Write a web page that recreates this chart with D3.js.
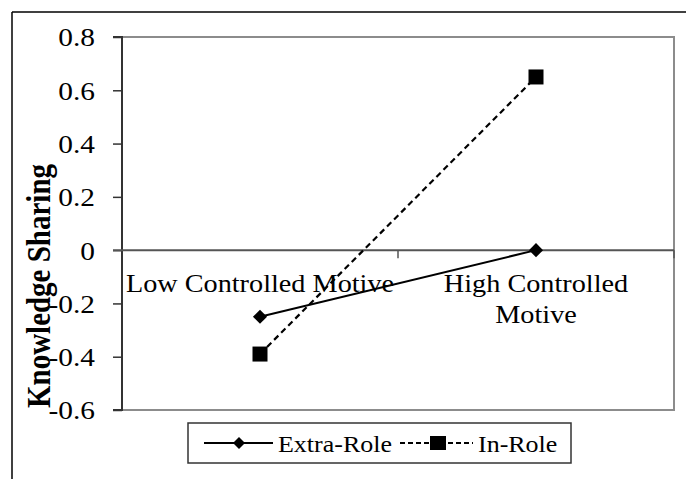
<!DOCTYPE html>
<html><head><meta charset="utf-8">
<script src="https://cdn.jsdelivr.net/npm/d3@7"></script>
<style>body{margin:0;background:#fff}svg{display:block}text{font-family:"Liberation Serif","Times New Roman",serif;fill:#000}</style>
</head><body><svg id="c" width="686" height="479"></svg>
<script>
const categories = ["Low Controlled Motive", "High Controlled Motive"];
const categoryLines = [["Low Controlled Motive"], ["High Controlled", "Motive"]];
const seriesNames = ["Extra-Role", "In-Role"];
const extraRole = [-0.25, 0.0];
const inRole = [-0.39, 0.65];
const yTicks = [-0.6, -0.4, -0.2, 0, 0.2, 0.4, 0.6, 0.8];
const yTitle = "Knowledge Sharing";

const svg = d3.select("#c");
const L = 122, R = 674, T = 37, B = 410;
const SX = 1.13;
const x = d3.scaleBand().domain(categories).range([L, R]);
const y = d3.scaleLinear().domain([-0.6, 0.8]).range([B, T]);

// outer frame
svg.append("line").attr("x1",12).attr("x2",686).attr("y1",12).attr("y2",12).attr("stroke","#000").attr("stroke-width",1.5);
svg.append("line").attr("x1",12).attr("x2",12).attr("y1",12).attr("y2",479).attr("stroke","#000").attr("stroke-width",1.5);

// plot area border
svg.append("rect").attr("x",L).attr("y",T).attr("width",R-L).attr("height",B-T)
  .attr("fill","none").attr("stroke","#8c8c8c").attr("stroke-width",2);

// y axis
const yAxis = d3.axisLeft(y).tickValues(yTicks).tickSize(9).tickPadding(0)
  .tickFormat(d => String(+d.toFixed(1)));
const gy = svg.append("g").attr("transform",`translate(${L},0)`).call(yAxis);
gy.select(".domain").attr("stroke","#333").attr("stroke-width",2).attr("d",`M-9,${T}H0V${B}H-9`);
gy.selectAll(".tick line").attr("stroke","#333").attr("stroke-width",1.5);
gy.selectAll(".tick text").attr("font-size",26).attr("font-family","Liberation Serif")
  .attr("x",null).attr("dy",null).attr("dominant-baseline","central")
  .attr("transform",`translate(-27,0) scale(${SX},1)`).attr("text-anchor","end");

// category axis at y = 0
const gx = svg.append("g").attr("transform",`translate(0,${y(0)})`);
gx.append("line").attr("x1",L-9).attr("x2",R).attr("y1",0).attr("y2",0).attr("stroke","#555").attr("stroke-width",2);
gx.selectAll("line.tk").data([L + x.bandwidth(), R]).enter().append("line").attr("class","tk")
  .attr("x1",d=>d).attr("x2",d=>d).attr("y1",0).attr("y2",8).attr("stroke","#555").attr("stroke-width",1.5);
categories.forEach((c,i) => {
  const cx = x(c) + x.bandwidth()/2;
  categoryLines[i].forEach((ln,j) => {
    svg.append("text").attr("font-size",25).attr("text-anchor","middle")
      .attr("transform",`translate(${cx},${y(0)+42+j*31}) scale(${SX},1)`).text(ln);
  });
});

// y title
svg.append("text").attr("font-size",29).attr("font-weight","bold").attr("text-anchor","middle")
  .attr("font-family","Liberation Serif")
  .attr("transform",`translate(50,286) rotate(-90) scale(1,${SX})`).text(yTitle);

// lines
const line = d3.line().x((d,i)=>x(categories[i])+x.bandwidth()/2).y(d=>y(d));
svg.append("path").attr("d",line(extraRole)).attr("fill","none").attr("stroke","#000").attr("stroke-width",2);
svg.append("path").attr("d",line(inRole)).attr("fill","none").attr("stroke","#000").attr("stroke-width",2.2).attr("stroke-dasharray","6,4");

svg.selectAll("path.dm").data(extraRole).enter().append("path").attr("class","dm")
  .attr("d",d3.symbol().type(d3.symbolSquare).size(100))
  .attr("transform",(d,i)=>`translate(${x(categories[i])+x.bandwidth()/2},${y(d)}) rotate(45)`).attr("fill","#000");
svg.selectAll("rect.sq").data(inRole).enter().append("rect").attr("class","sq")
  .attr("x",(d,i)=>x(categories[i])+x.bandwidth()/2-7.5).attr("y",d=>y(d)-7.5)
  .attr("width",15).attr("height",15).attr("fill","#000");

// legend
const lg = svg.append("g");
lg.append("rect").attr("x",188).attr("y",423).attr("width",383).attr("height",40).attr("fill","#fff").attr("stroke","#333").attr("stroke-width",1.5);
const ly = 443;
lg.append("line").attr("x1",204).attr("x2",273).attr("y1",ly).attr("y2",ly).attr("stroke","#000").attr("stroke-width",2);
lg.append("path").attr("d",d3.symbol().type(d3.symbolSquare).size(72)).attr("transform",`translate(239,${ly}) rotate(45)`);
lg.append("text").attr("font-size",23).attr("dominant-baseline","central").attr("transform",`translate(278,${ly+1}) scale(${SX},1)`).text(seriesNames[0]);
lg.append("line").attr("x1",400).attr("x2",473).attr("y1",ly).attr("y2",ly).attr("stroke","#000").attr("stroke-width",2).attr("stroke-dasharray","5,3");
lg.append("rect").attr("x",430).attr("y",ly-7).attr("width",16).attr("height",14);
lg.append("text").attr("font-size",23).attr("dominant-baseline","central").attr("transform",`translate(478,${ly+1}) scale(${SX},1)`).text(seriesNames[1]);
</script></body></html>
